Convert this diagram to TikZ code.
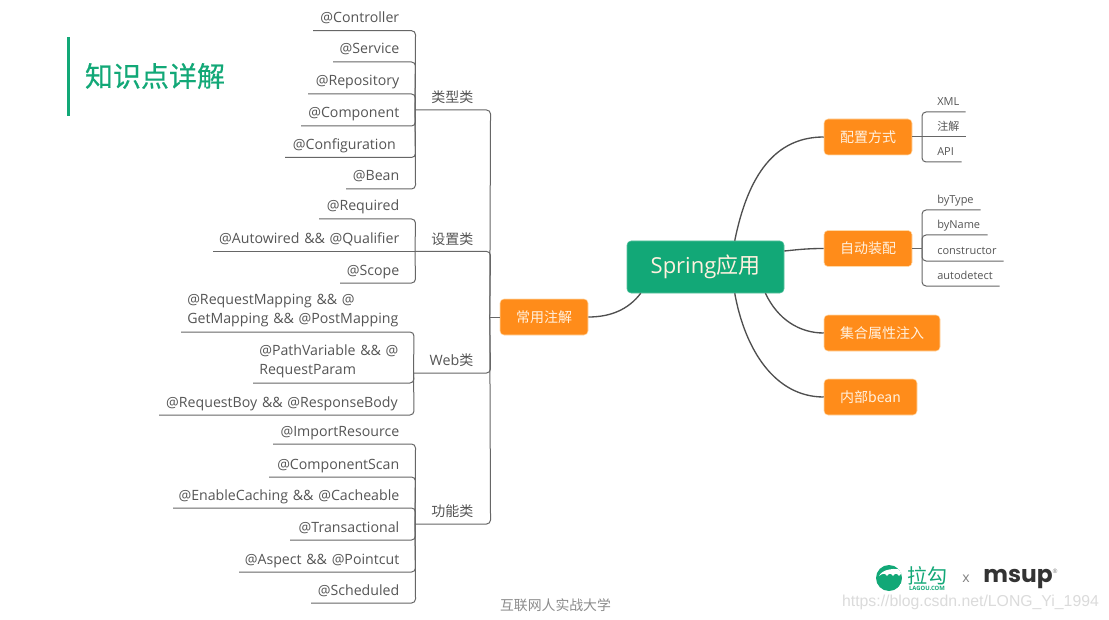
\documentclass[tikz,border=0pt]{standalone}
\usepackage{fontspec}
\setmainfont{Open Sans}
\newfontfamily\cjk{Noto Sans CJK SC}
\newfontfamily\cjkm[FakeBold=0.5]{Noto Sans CJK SC}
\newfontfamily\wm{Liberation Sans}
\newfontfamily\logofont{Poppins}
\definecolor{txt}{HTML}{555555}
\definecolor{lin}{HTML}{666666}
\definecolor{curv}{HTML}{4F4F4F}
\definecolor{grn}{HTML}{12A877}
\definecolor{org}{HTML}{FF8C1A}
\definecolor{orgl}{HTML}{FFD9A8}
\definecolor{boxt}{HTML}{FFF1DF}
\tikzset{
  branch/.style={draw=lin,line width=0.75pt,rounded corners=3pt},
  curve/.style={draw=curv,line width=1pt},
  leaf/.style={inner sep=0pt,anchor=south west,text=txt,font=\fontsize{10.62}{14.25}\selectfont},
  sub/.style={inner sep=0pt,anchor=south west,text=txt,align=left,font=\fontsize{8.25}{10}\selectfont},
  hub/.style={inner sep=0pt,anchor=south west,text=txt,align=right,font=\fontsize{10.5}{13}\selectfont\cjk},
  topic/.style={rectangle,rounded corners=3pt,fill=org,draw=orgl,line width=0.4pt,text=boxt,inner sep=0pt,
    minimum height=27pt,font=\fontsize{10.5}{13}\selectfont\cjk},
  root/.style={rectangle,rounded corners=3pt,fill=grn,draw=grn!70!white,line width=0.4pt,text=boxt,inner sep=0pt,
    minimum width=117.75pt,minimum height=39pt,font=\fontsize{16.5}{20}\selectfont},
}
% name, x start, x end, y, right padding (px), text
\newcommand\leafR[6]{%
  \pgfmathsetlengthmacro\lw{(#3-#2)*0.75pt}%
  \pgfmathsetlengthmacro\lp{#5*0.75pt}%
  \node[leaf,text width=\lw,align=right] (#1) at (#2,#4) {#6\rule[-5.8pt]{0pt}{9pt}\hspace*{\lp}};}
% two-line leaf, left aligned
\newcommand\leafT[6]{%
  \pgfmathsetlengthmacro\lw{(#2-#1)*0.75pt}%
  \node[leaf,text width=\lw,align=left] (#3) at (#1,#4) {\hspace*{4.5pt}#5\\\hspace*{4.5pt}#6\rule[-6.2pt]{0pt}{9pt}};}
\newcommand\hubN[5]{%
  \pgfmathsetlengthmacro\lw{(490-#2)*0.75pt}%
  \node[hub,text width=\lw] (#1) at (#2,#3) {#4\rule[-5.3pt]{0pt}{9pt}\hspace*{12.75pt}};}
\newcommand\subN[5]{%
  \pgfmathsetlengthmacro\lw{(#3-922)*0.75pt}%
  \node[sub,text width=\lw] (#1) at (922,#2) {\hspace*{11.25pt}#4\rule[#5]{0pt}{7pt}};}
\begin{document}
\begin{tikzpicture}[x=0.75pt,y=-0.75pt]
\path[use as bounding box,fill=white] (0,0) rectangle (1109,620);

% title
\node[fill=grn,inner sep=0pt,minimum width=2.6pt,minimum height=59pt] (bar) at (68.5,76.5) {};
\node[inner sep=0pt,text=grn,font=\fontsize{21}{25}\selectfont\cjkm] (title) at (155,76) {知识点详解};

% main boxes
\node[root] (spring) at (705.5,267) {\raisebox{-1.4pt}{Spring{\cjk 应用}}};
\node[topic,minimum width=66pt] (main) at (544,317) {常用注解};
\node[topic,minimum width=66pt] (cfg) at (868,137) {配置方式};
\node[topic,minimum width=66pt] (auto) at (868,248.5) {自动装配};
\node[topic,minimum width=87pt] (coll) at (882,333) {集合属性注入};
\node[topic,minimum width=69.75pt] (inner) at (870.5,397) {内部bean};

% curves from root
\draw[curve] ([xshift=81pt]spring.north west) .. controls (748,175) and (775,137) .. (cfg.west);
\draw[curve] (spring.east |- 0,251) .. controls (795,250) and (805,248.5) .. (auto.west);
\draw[curve] ([xshift=104pt]spring.south west) .. controls (778,320) and (800,333) .. (coll.west);
\draw[curve] ([xshift=81pt]spring.south west) .. controls (745,350) and (775,397) .. (inner.west);
\draw[curve] ([xshift=10.5pt]spring.south west) .. controls (628,310) and (610,317) .. (main.east);

% hubs
\hubN{htype}{415}{110}{类型类}{}
\hubN{hset}{415}{251.4}{设置类}{}
\hubN{hweb}{413.5}{373}{{\fontsize{10.7}{13}\selectfont\normalfont Web}类}{}
\hubN{hfun}{415}{524}{功能类}{}
\coordinate (spine) at ([xshift=-7.5pt]main.west);
\draw[branch] (htype.south west) -- (htype.south east) -- (spine);
\draw[branch] (hset.south west) -- (hset.south east) -- (spine);
\draw[branch] (hweb.south west) -- (hweb.south east) -- (spine);
\draw[branch] (hfun.south west) -- (hfun.south east) -- (spine);
\draw[branch] (spine) -- (main.west);

% type leaves
\leafR{a1}{313}{415}{30.7}{16}{@Controller}
\leafR{a2}{333}{415}{62}{16}{@Service}
\leafR{a3}{308}{415}{94}{16}{@Repository}
\leafR{a4}{301}{415}{126}{16}{@Component}
\leafR{a5}{285}{415}{157.5}{19.5}{@Configuration}
\leafR{a6}{346}{415}{189}{16}{@Bean}
\foreach \n in {a1,a2,a3,a4,a5,a6}
  \draw[branch] (\n.south west) -- (\n.south east) -- (htype.south west);

% setting leaves
\leafR{b1}{319}{415}{219}{16}{@Required}
\leafR{b2}{213}{415}{251.4}{16}{@Autowired \&\& @Qualifier}
\leafR{b3}{340}{415}{283}{16}{@Scope}
\draw[branch] (b1.south west) -- (b1.south east) -- (hset.south west);
\draw[branch] (b2.south west) -- (hset.south west);
\draw[branch] (b3.south west) -- (b3.south east) -- (hset.south west);

% web leaves
\leafT{181}{413.5}{c1}{332}{@RequestMapping \&\& @}{GetMapping \&\& @PostMapping}
\leafT{253}{413.5}{c2}{383}{@PathVariable \&\& @}{RequestParam}
\leafR{c3}{159}{413.5}{415}{16}{@RequestBoy \&\& @ResponseBody}
\foreach \n in {c1,c2,c3}
  \draw[branch] (\n.south west) -- (\n.south east) -- (hweb.south west);

% function leaves
\leafR{d1}{273}{415}{444}{16}{@ImportResource}
\leafR{d2}{269}{415}{477}{16}{@ComponentScan}
\leafR{d3}{173}{415}{508}{16}{@EnableCaching \&\& @Cacheable}
\leafR{d4}{290}{415}{540}{16}{@Transactional}
\leafR{d5}{239}{415}{572}{16}{@Aspect \&\& @Pointcut}
\leafR{d6}{311}{415}{603}{16}{@Scheduled}
\foreach \n in {d1,d2,d3,d4,d5,d6}
  \draw[branch] (\n.south west) -- (\n.south east) -- (hfun.south west);

% config leaves
\subN{e1}{112}{965}{XML}{-4.9pt}
\subN{e2}{137}{965}{{\cjk 注解}}{-4.9pt}
\subN{e3}{162}{961}{API}{-4.9pt}
\coordinate (cfgj) at (e2.west |- cfg.east);
\draw[branch] (e1.south east) -- (e1.south west) -- (cfgj);
\draw[branch] (e3.south east) -- (e3.south west) -- (cfgj);
\draw[branch] (cfg.east) -- (e2.south east);

% wiring leaves
\subN{f1}{210}{980}{byType}{-4.9pt}
\subN{f2}{235}{987}{byName}{-4.9pt}
\subN{f3}{261}{1003}{constructor}{-4.9pt}
\subN{f4}{286}{999}{autodetect}{-4.9pt}
\coordinate (autoj) at (f2.west |- auto.east);
\draw[branch] (auto.east) -- (autoj);
\foreach \n in {f1,f2,f3,f4}
  \draw[branch] (\n.south east) -- (\n.south west) -- (autoj);

% footer
\node[inner sep=0pt,text=black!45,font=\fontsize{10.4}{12}\selectfont\cjk] (foot) at (555.5,605.5) {互联网人实战大学};

% logo
\begin{scope}
  \clip (889,578) circle (13);
  \fill[grn] (889,578) circle (13);
  \fill[white] (879,576) .. controls (882,569) and (896,567) .. (905,571) -- (905,576)
    .. controls (903,573) and (901,573) .. (899,576) .. controls (897,573) and (895,573) .. (893,576)
    .. controls (891,573) and (889,573) .. (887,576) .. controls (885,573) and (883,573) .. (879,576) -- cycle;
\end{scope}
\node[inner sep=0pt,text=grn,font=\fontsize{15}{18}\selectfont\cjk] (lg1) at (927.5,576) {拉勾};
\node[inner sep=0pt,text=grn,font=\fontsize{4.4}{6}\selectfont\bfseries] (lg2) at (927,588.5) {LAGOU.COM};
\node[inner sep=0pt,text=black!50,font=\fontsize{10.5}{12}\selectfont] (lgx) at (966,579) {x};
\node[inner sep=0pt,text=black!80,font=\fontsize{17.5}{20}\selectfont\logofont\bfseries] (lg3) at (1018,579) {msup};
\node[inner sep=0pt,text=black!50,font=\fontsize{4.5}{6}\selectfont] (lg4) at (1055,571) {®};
\node[inner sep=0pt,text=black!14,font=\fontsize{11.85}{14}\selectfont\wm] (wmk) at (970.5,602) {https://blog.csdn.net/LONG\_Yi\_1994};
\end{tikzpicture}
\end{document}
